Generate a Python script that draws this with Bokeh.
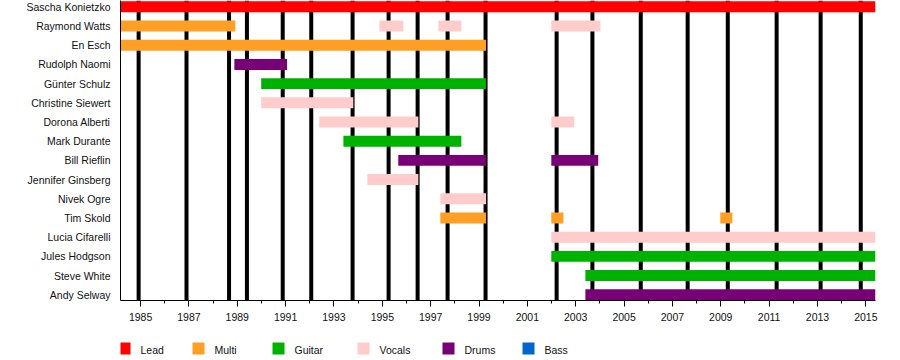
from bokeh.plotting import figure
from bokeh.models import Range1d, FixedTicker, ColumnDataSource
from bokeh.layouts import column
from bokeh.core.properties import value
from bokeh.embed import file_html
from bokeh.resources import INLINE

# ---------------- data ----------------
members = ["Sascha Konietzko", "Raymond Watts", "En Esch", "Rudolph Naomi",
           "Günter Schulz", "Christine Siewert", "Dorona Alberti", "Mark Durante",
           "Bill Rieflin", "Jennifer Ginsberg", "Nivek Ogre", "Tim Skold",
           "Lucia Cifarelli", "Jules Hodgson", "Steve White", "Andy Selway"]

roles = ["Lead", "Multi", "Guitar", "Vocals", "Drums", "Bass"]
role_colors = ["#FF0000", "#FF9F26", "#00B200", "#FFCCCC", "#770077", "#0066CC"]

bar_member = ["Sascha Konietzko",
              "Raymond Watts", "Raymond Watts", "Raymond Watts", "Raymond Watts",
              "En Esch", "Rudolph Naomi", "Günter Schulz", "Christine Siewert",
              "Dorona Alberti", "Dorona Alberti", "Mark Durante",
              "Bill Rieflin", "Bill Rieflin", "Jennifer Ginsberg", "Nivek Ogre",
              "Tim Skold", "Tim Skold", "Tim Skold",
              "Lucia Cifarelli", "Jules Hodgson", "Steve White", "Andy Selway"]
bar_role = ["Lead",
            "Multi", "Vocals", "Vocals", "Vocals",
            "Multi", "Drums", "Guitar", "Vocals",
            "Vocals", "Vocals", "Guitar",
            "Drums", "Drums", "Vocals", "Vocals",
            "Multi", "Multi", "Multi",
            "Vocals", "Guitar", "Guitar", "Drums"]
bar_start = [1984.16,
             1984.16, 1994.88, 1997.32, 2001.99,
             1984.16, 1988.88, 1989.99, 1989.99,
             1992.39, 2001.99, 1993.39,
             1995.66, 2001.99, 1994.38, 1997.40,
             1997.40, 2001.99, 2008.98,
             2001.99, 2001.99, 2003.40, 2003.40]
bar_end = [2015.40,
           1988.92, 1995.87, 1998.27, 2004.02,
           1999.29, 1991.06, 1999.29, 1993.80,
           1996.49, 2002.94, 1998.27,
           1999.29, 2003.93, 1996.49, 1999.29,
           1999.29, 2002.49, 2009.48,
           2015.40, 2015.40, 2015.40, 2015.40]

album_dates = [1984.92, 1986.90, 1988.66, 1989.40, 1990.88, 1992.06, 1993.77,
               1995.26, 1996.46, 1997.70, 1999.27, 2002.21, 2003.69, 2005.69,
               2007.63, 2009.29, 2011.31, 2013.13, 2014.79]

year_labels = list(range(1985, 2016, 2))
year_minor = list(range(1984, 2016))

# legend layout (pixel positions of the key squares, left edges)
legend_x = [118, 192, 272, 357, 442, 522]

# ---------------- main chart ----------------
X0, X1 = 1984.17, 2015.40
Y_TOP, Y_BOT = -0.33, 15.30
FONT = "Liberation Sans"
FS = "10.5px"
TXT = "#111111"
FRAME_L, FRAME_R = 120, 875

p = figure(width=900, height=326,
           x_range=Range1d(X0, X1), y_range=Range1d(Y_BOT, Y_TOP),
           output_backend="svg", toolbar_location=None,
           min_border_left=FRAME_L, min_border_right=900 - FRAME_R,
           min_border_top=0, min_border_bottom=26)
p.outline_line_color = None
p.xgrid.visible = False
p.ygrid.visible = False
p.background_fill_color = "white"
p.border_fill_color = "white"

# album release lines (behind bars)
p.segment(x0=album_dates, x1=album_dates, y0=[Y_TOP] * len(album_dates),
          y1=[Y_BOT] * len(album_dates), line_width=4, line_color="black",
          line_cap="butt")

# bars per role
row_of = {m: i for i, m in enumerate(members)}
for role, color in zip(roles, role_colors):
    idx = [i for i, r in enumerate(bar_role) if r == role]
    if not idx:
        continue
    src = ColumnDataSource(dict(
        y=[row_of[bar_member[i]] for i in idx],
        left=[bar_start[i] for i in idx],
        right=[bar_end[i] for i in idx]))
    p.hbar(y="y", left="left", right="right", height=0.57, source=src,
           fill_color=color, line_color=None)

# x axis
xa = p.xaxis[0]
xa.ticker = FixedTicker(ticks=year_labels, minor_ticks=year_minor)
xa.axis_line_color = "black"
xa.axis_line_width = 1
xa.major_tick_line_color = "black"
xa.minor_tick_line_color = "black"
xa.major_tick_out = 6
xa.major_tick_in = 0
xa.minor_tick_out = 3
xa.minor_tick_in = 0
xa.major_label_standoff = 6
xa.major_label_text_font = FONT
xa.major_label_text_font_size = FS
xa.major_label_text_color = TXT

# y axis
ya = p.yaxis[0]
ya.ticker = FixedTicker(ticks=list(range(len(members))), minor_ticks=[])
ya.major_label_overrides = {i: m for i, m in enumerate(members)}
ya.axis_line_color = "black"
ya.axis_line_width = 1
ya.major_tick_out = 0
ya.major_tick_in = 0
ya.minor_tick_out = 0
ya.minor_tick_in = 0
ya.major_label_standoff = 10
ya.major_label_text_font = FONT
ya.major_label_text_font_size = FS
ya.major_label_text_color = TXT

# ---------------- legend strip ----------------
# the column layout aligns this strip's frame with the chart's frame,
# so its x range spans the same pixel columns (FRAME_L..FRAME_R)
LH = 34
lg = figure(width=900, height=LH, x_range=Range1d(FRAME_L, FRAME_R),
            y_range=Range1d(LH, 0),
            output_backend="svg", toolbar_location=None,
            x_axis_location=None, y_axis_location=None,
            min_border_left=FRAME_L, min_border_right=900 - FRAME_R,
            min_border_top=0, min_border_bottom=0)
lg.outline_line_color = None
lg.xgrid.visible = False
lg.ygrid.visible = False
lg.background_fill_color = "white"
lg.border_fill_color = "white"

lsrc = ColumnDataSource(dict(
    sx=[x + 6 for x in legend_x],
    tx=[x + 22 for x in legend_x],
    y=[22] * len(roles),
    ty=[23] * len(roles),
    color=role_colors,
    label=roles))
lg.rect(x="sx", y="y", width=12, height=12, source=lsrc,
        fill_color="color", line_color=None)
lg.text(x="tx", y="ty", text="label", source=lsrc,
        text_font=value(FONT), text_font_size=value(FS), text_color=TXT,
        text_baseline="middle", text_align="left")

layout = column(p, lg, spacing=0)
open("out.html", "w").write(file_html(layout, INLINE))
